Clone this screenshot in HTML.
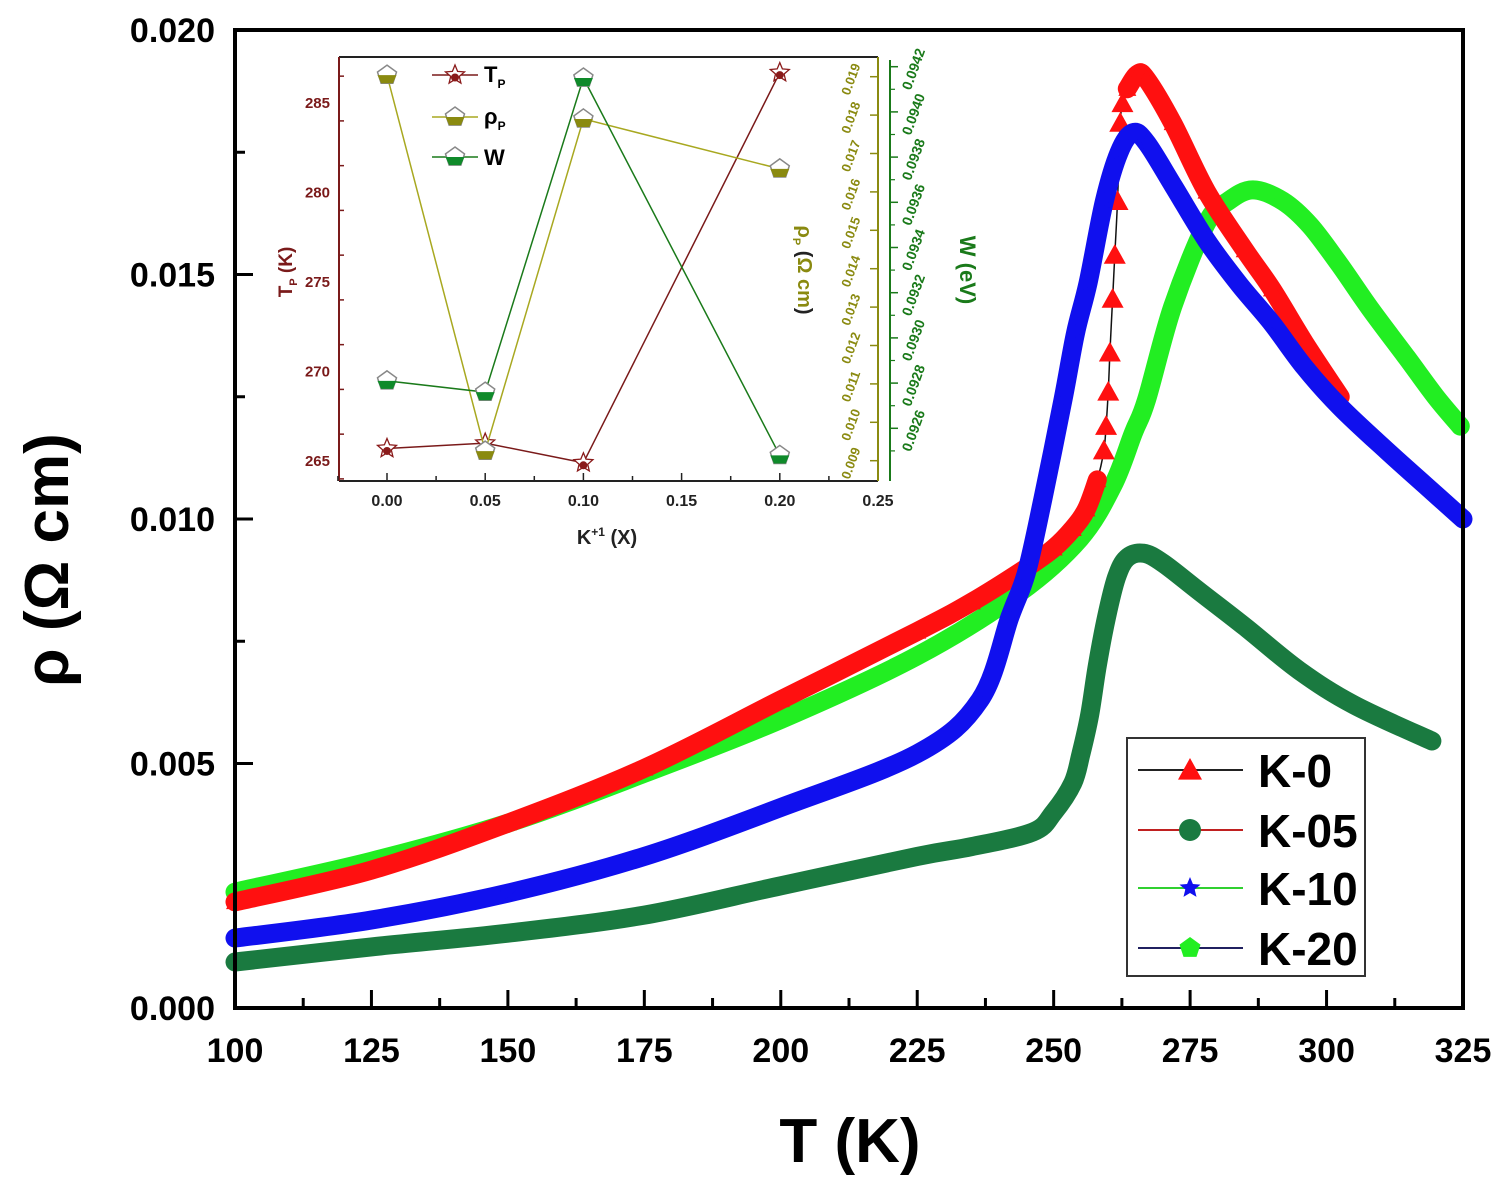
<!DOCTYPE html>
<html><head><meta charset="utf-8"><style>
body{margin:0;background:#fff}
svg{display:block;font-family:"Liberation Sans",Arial,sans-serif}
</style></head><body>
<svg id="chart" width="1508" height="1182" viewBox="0 0 1508 1182" xmlns="http://www.w3.org/2000/svg">
<g id="main"></g><g id="inset"></g>
</svg>
<script>
// ===== main chart data =====
const k0T   = [100,125,150,175,200,225,235,245,250,253.5,256,258,259.2,259.6,260,260.3,260.8,261.2,261.7,262.2,262.6,263.5,265.4,267,271.8,278,285,290,296,302.5];
const k0Rho = [0.00217,0.00282,0.00378,0.0049,0.0063,0.0077,0.0083,0.0090,0.0094,0.0098,0.0102,0.0108,0.0114,0.0119,0.0126,0.0134,0.0145,0.0154,0.0165,0.0181,0.0185,0.0188,0.0191,0.0190,0.0181,0.0167,0.0155,0.0147,0.0136,0.0125];
const k05T   = [100,125,150,175,200,225,235,246.2,250,253.5,255,256.6,258,259.7,261.5,263.4,266.4,270,276.9,285,295,305,319.3];
const k05Rho = [0.00094,0.00125,0.00153,0.0019,0.0025,0.0031,0.0033,0.0036,0.0040,0.0046,0.0052,0.0060,0.0070,0.0080,0.0088,0.0092,0.0093,0.0091,0.0085,0.0078,0.0069,0.0062,0.00546];
const k10T   = [100,125,150,175,200,225,236.5,242,245,248,251.7,254,256.3,259.3,262,264.5,267,272,278,284,290,296,302.4,311,318,325];
const k10Rho = [0.00143,0.0018,0.00235,0.0031,0.0041,0.0052,0.0063,0.0080,0.0089,0.0104,0.01243,0.0138,0.01483,0.0165,0.0175,0.0179,0.0177,0.0168,0.0157,0.0148,0.0140,0.0131,0.0123,0.0114,0.0107,0.0100];
const k20T   = [100,125,150,175,200,225,243.8,254.8,260.9,264.6,267,271.8,278,282,286.5,292,297,302.4,308,314.7,320,324.5];
const k20Rho = [0.00237,0.0030,0.00378,0.0048,0.0059,0.0072,0.0085,0.0096,0.0107,0.01176,0.01243,0.01434,0.01605,0.0165,0.01673,0.0165,0.0160,0.0152,0.0143,0.0133,0.0125,0.0119];
const xTicks = [100,125,150,175,200,225,250,275,300,325];
const yTicks = [0,0.005,0.010,0.015,0.020];
const yTickLabels = ["0.000","0.005","0.010","0.015","0.020"];
const legendLabels = ["K-0","K-05","K-10","K-20"];

// ===== inset data =====
const insetX = [0,0.05,0.10,0.20];
const tpVals = [265.7,266.0,264.9,286.7];
const rhoPVals = [0.01904,0.00925,0.0179,0.0166];
const wVals = [0.09281,0.09276,0.09415,0.09248];
const insetXTicks = [0,0.05,0.10,0.15,0.20,0.25];
const tpTicks = [265,270,275,280,285];
const rhoPTicks = [0.009,0.010,0.011,0.012,0.013,0.014,0.015,0.016,0.017,0.018,0.019];
const wTicks = [0.0926,0.0928,0.0930,0.0932,0.0934,0.0936,0.0938,0.0940,0.0942];

const NS="http://www.w3.org/2000/svg";
function mk(parent,tag,attrs,text){const e=document.createElementNS(NS,tag);for(const k in attrs)e.setAttribute(k,attrs[k]);if(text!==undefined)e.textContent=text;parent.appendChild(e);return e;}

const X=t=>235+(t-100)*1228/225;
const Y=v=>1008-v*48900;
const main=document.getElementById('main');

function smoothPath(pts){
  if(pts.length<2)return '';
  let d='M'+pts[0][0].toFixed(1)+','+pts[0][1].toFixed(1);
  for(let i=0;i<pts.length-1;i++){
    const p0=pts[Math.max(0,i-1)],p1=pts[i],p2=pts[i+1],p3=pts[Math.min(pts.length-1,i+2)];
    const c1=[p1[0]+(p2[0]-p0[0])/6,p1[1]+(p2[1]-p0[1])/6];
    const c2=[p2[0]-(p3[0]-p1[0])/6,p2[1]-(p3[1]-p1[1])/6];
    d+=` C${c1[0].toFixed(1)},${c1[1].toFixed(1)} ${c2[0].toFixed(1)},${c2[1].toFixed(1)} ${p2[0].toFixed(1)},${p2[1].toFixed(1)}`;
  }
  return d;
}

// x ticks
for(let t=100;t<=325;t+=12.5){
  const major=(t%25===0);
  const l=mk(main,'line',{x1:X(t),x2:X(t),y1:1008,y2:1008-(major?18:10),stroke:'#000','stroke-width':3});
  
  
}
xTicks.forEach(t=>{
  const e=mk(main,'text',{x:X(t),y:1062,'text-anchor':'middle','font-size':34,'font-weight':'bold'},String(t));
  
  
});
for(let v=0;v<=0.0201;v+=0.0025){
  const major=Math.abs(v/0.005-Math.round(v/0.005))<1e-6;
  const l=mk(main,'line',{x1:235,x2:235+(major?18:10),y1:Y(v),y2:Y(v),stroke:'#000','stroke-width':3});
  
  
}
yTicks.forEach((v,i)=>{
  const e=mk(main,'text',{x:215,y:Y(v)+12,'text-anchor':'end','font-size':34,'font-weight':'bold'},yTickLabels[i]);
  
  
});
let xt=mk(main,'text',{x:850,y:1162,'text-anchor':'middle','font-size':62,'font-weight':'bold'},'T (K)');


let yt=mk(main,'text',{x:0,y:0,'text-anchor':'middle','font-size':62,'font-weight':'bold',transform:'translate(68,560) rotate(-90)'},'ρ (Ω cm)');



function marker(g,type,x,y,s,fill){
  if(type==='tri') return mk(g,'polygon',{points:`${x},${y-s} ${x-s},${y+s*0.8} ${x+s},${y+s*0.8}`,fill});
  if(type==='circ') return mk(g,'circle',{cx:x,cy:y,r:s,fill});
  if(type==='star'){let p=[];for(let i=0;i<10;i++){const a=-Math.PI/2+i*Math.PI/5,r=i%2?s*0.45:s;p.push((x+r*Math.cos(a)).toFixed(1)+','+(y+r*Math.sin(a)).toFixed(1));}return mk(g,'polygon',{points:p.join(' '),fill});}
  let p=[];for(let i=0;i<5;i++){const a=-Math.PI/2+i*2*Math.PI/5;p.push((x+s*Math.cos(a)).toFixed(1)+','+(y+s*Math.sin(a)).toFixed(1));}
  return mk(g,'polygon',{points:p.join(' '),fill});
}

const seriesDefs=[
 {name:'k-20',T:k20T,R:k20Rho,color:'#22ee22',m:'pent',gap:null},
 {name:'k-0',T:k0T,R:k0Rho,color:'#ff1010',m:'tri',gap:[259,262.7]},
 {name:'k-10',T:k10T,R:k10Rho,color:'#1010ee',m:'star',gap:null},
 {name:'k-05',T:k05T,R:k05Rho,color:'#1a7a40',m:'circ',gap:null},
];
seriesDefs.forEach(s=>{
  const g=mk(main,'g',{});
  
  
  const all=s.T.map((t,i)=>[X(t),Y(s.R[i])]);
  const inGap=t=>s.gap&&t>s.gap[0]&&t<s.gap[1];
  if(s.gap){
    const thin=mk(g,'path',{d:smoothPath(all),fill:'none',stroke:'#111','stroke-width':1.5});
    
    
  }
  let segs=[],cur=[];
  s.T.forEach((t,i)=>{
    if(inGap(t)){if(cur.length)segs.push(cur);cur=[];}
    else cur.push(all[i]);
  });
  if(cur.length)segs.push(cur);
  segs.forEach(seg=>{
    const p=mk(g,'path',{d:smoothPath(seg),fill:'none',stroke:s.color,'stroke-width':19,'stroke-linejoin':'round','stroke-linecap':'round'});
    
    
  });
  s.T.forEach((t,i)=>{
    const m=marker(g,s.m,X(t),Y(s.R[i]),inGap(t)?11:9,s.color);
    
    
  });
});

// frame
let fr=mk(main,'rect',{x:235,y:30,width:1228,height:978,fill:'none',stroke:'#000','stroke-width':4});



// legend
const lg=mk(main,'g',{});


mk(lg,'rect',{x:1127,y:738,width:238,height:238,fill:'#fff',stroke:'#333','stroke-width':2});
const legLine=['#222','#c02020','#30d030','#202060'];
const legM=[['tri','#ff1010'],['circ','#1a7a40'],['star','#1010ee'],['pent','#22ee22']];
const legY=[770,830,888,948];
legendLabels.forEach((lab,i)=>{
  const e=mk(lg,'g',{});
  
  
  mk(e,'line',{x1:1138,x2:1243,y1:legY[i],y2:legY[i],stroke:legLine[i],'stroke-width':2});
  marker(e,legM[i][0],1190,legY[i],i===0?12:11,legM[i][1]);
  mk(e,'text',{x:1258,y:legY[i]+17,'font-size':46,'font-weight':'bold'},lab);
});

// ===== inset =====
const ins=document.getElementById('inset');


const IX=x=>387+x*1964;
const ITP=v=>461-(v-265)*17.9;
const IRHO=v=>76.7+(0.019-v)*38400;
const IW=v=>66.7+(0.0942-v)*226000;
const brown='#7a1a1a',olive='#8a8a10',dgreen='#1a7a1a';
mk(ins,'rect',{x:339,y:57,width:539,height:424,fill:'#fff',stroke:'none'});
mk(ins,'line',{x1:339,x2:878,y1:57,y2:57,stroke:'#222','stroke-width':2});
mk(ins,'line',{x1:339,x2:878,y1:481,y2:481,stroke:'#222','stroke-width':2});
mk(ins,'line',{x1:339,x2:339,y1:57,y2:481,stroke:brown,'stroke-width':2});
mk(ins,'line',{x1:878,x2:878,y1:57,y2:481,stroke:olive,'stroke-width':2});
mk(ins,'line',{x1:890,x2:890,y1:60,y2:481,stroke:dgreen,'stroke-width':2});
for(let x=-0.025;x<=0.226;x+=0.025){const maj=Math.abs(x*20-Math.round(x*20))<1e-6;mk(ins,'line',{x1:IX(x),x2:IX(x),y1:481,y2:481-(maj?8:5),stroke:'#222','stroke-width':1.5});}
insetXTicks.forEach(x=>{
  const e=mk(ins,'text',{x:IX(x),y:506,'text-anchor':'middle','font-size':16,'font-weight':'bold',fill:'#222'},x.toFixed(2));
  
  
});
let ixt=mk(ins,'text',{x:607,y:544,'text-anchor':'middle','font-size':20,'font-weight':'bold',fill:'#222'},'');
ixt.innerHTML='K<tspan font-size="12" dy="-8">+1</tspan><tspan dy="8"> (X)</tspan>';


for(let v=264;v<=287;v+=2.5){mk(ins,'line',{x1:339,x2:339+((v-265)%5===0?8:5),y1:ITP(v),y2:ITP(v),stroke:brown,'stroke-width':1.5});}
tpTicks.forEach(v=>{
  const e=mk(ins,'text',{x:330,y:ITP(v)+5,'text-anchor':'end','font-size':15,'font-weight':'bold',fill:brown},String(v));
  
  
});
let tpt=mk(ins,'text',{x:0,y:0,'text-anchor':'middle','font-size':19,'font-weight':'bold',fill:brown,transform:'translate(292,272) rotate(-90)'},'');
tpt.innerHTML='T<tspan font-size="11" dy="5">P</tspan><tspan dy="-5"> (K)</tspan>';


rhoPTicks.forEach(v=>{
  mk(ins,'line',{x1:878,x2:870,y1:IRHO(v),y2:IRHO(v),stroke:olive,'stroke-width':1.5});
  const e=mk(ins,'text',{x:0,y:0,'text-anchor':'middle','font-size':13,'font-weight':'bold',fill:olive,transform:`translate(855,${IRHO(v)+4}) rotate(-70)`},v.toFixed(3));
  
  
});
wTicks.forEach(v=>{
  mk(ins,'line',{x1:890,x2:898,y1:IW(v),y2:IW(v),stroke:dgreen,'stroke-width':1.5});
  mk(ins,'line',{x1:890,x2:895,y1:IW(v-0.0001),y2:IW(v-0.0001),stroke:dgreen,'stroke-width':1.2});
  const e=mk(ins,'text',{x:0,y:0,'text-anchor':'middle','font-size':14,'font-weight':'bold',fill:dgreen,transform:`translate(918,${IW(v)+4}) rotate(-70)`},v.toFixed(4));
  
  
});
let rt=mk(ins,'text',{x:0,y:0,'text-anchor':'middle','font-size':20,'font-weight':'bold',fill:'#222',transform:'translate(798,270) rotate(90)'},'');
rt.innerHTML='<tspan fill="#8a8a10">ρ</tspan><tspan fill="#8a8a10" font-size="11" dy="5">P</tspan><tspan dy="-5"> (</tspan><tspan fill="#8a8a10">Ω cm</tspan>)';


let wt=mk(ins,'text',{x:0,y:0,'text-anchor':'middle','font-size':22,'font-weight':'bold',fill:dgreen,transform:'translate(960,270) rotate(90)'},'W (eV)');



function halfPent(g,x,y,s,col,edge){
  let p=[];for(let i=0;i<5;i++){const a=-Math.PI/2+i*2*Math.PI/5;p.push([x+s*Math.cos(a),y+s*Math.sin(a)]);}
  mk(g,'polygon',{points:p.map(q=>q.join(',')).join(' '),fill:'#fff',stroke:edge,'stroke-width':1.5});
  mk(g,'polygon',{points:`${x-s*0.95},${y} ${x+s*0.95},${y} ${p[2][0]},${p[2][1]} ${p[3][0]},${p[3][1]}`,fill:col});
}
function halfStar(g,x,y,s,col){
  let p=[];for(let i=0;i<10;i++){const a=-Math.PI/2+i*Math.PI/5,r=i%2?s*0.45:s;p.push((x+r*Math.cos(a)).toFixed(1)+','+(y+r*Math.sin(a)).toFixed(1));}
  mk(g,'polygon',{points:p.join(' '),fill:'#fff',stroke:col,'stroke-width':1.3});
  mk(g,'circle',{cx:x,cy:y+s*0.25,r:s*0.4,fill:col});
}
const insSeries=[
 {name:'tp',vals:tpVals,f:ITP,line:brown,col:'#8a1a1a',m:'star'},
 {name:'rhop',vals:rhoPVals,f:IRHO,line:'#a8a820',col:'#8a8a10',m:'pent'},
 {name:'w',vals:wVals,f:IW,line:dgreen,col:'#0f8a2a',m:'pent'},
];
insSeries.forEach(s=>{
  const g=mk(ins,'g',{});
  
  
  mk(g,'polyline',{points:insetX.map((x,i)=>IX(x)+','+s.f(s.vals[i])).join(' '),fill:'none',stroke:s.line,'stroke-width':1.5});
  insetX.forEach((x,i)=>{
    if(s.m==='star') halfStar(g,IX(x),s.f(s.vals[i]),10,s.col);
    else halfPent(g,IX(x),s.f(s.vals[i]),10,s.col,'#888');
  });
});
// inset legend
const il=mk(ins,'g',{});


const ilY=[75,117,157];
insSeries.forEach((s,i)=>{
  mk(il,'line',{x1:432,x2:478,y1:ilY[i],y2:ilY[i],stroke:s.line,'stroke-width':1.5});
  if(s.m==='star') halfStar(il,455,ilY[i],10,s.col); else halfPent(il,455,ilY[i],10,s.col,'#888');
});
let l1=mk(il,'text',{x:484,y:82,'font-size':22,'font-weight':'bold'},'');l1.innerHTML='T<tspan font-size="12" dy="6">P</tspan>';
let l2=mk(il,'text',{x:484,y:124,'font-size':22,'font-weight':'bold'},'');l2.innerHTML='ρ<tspan font-size="12" dy="6">P</tspan>';
mk(il,'text',{x:484,y:165,'font-size':22,'font-weight':'bold'},'W');
</script>
</body></html>
